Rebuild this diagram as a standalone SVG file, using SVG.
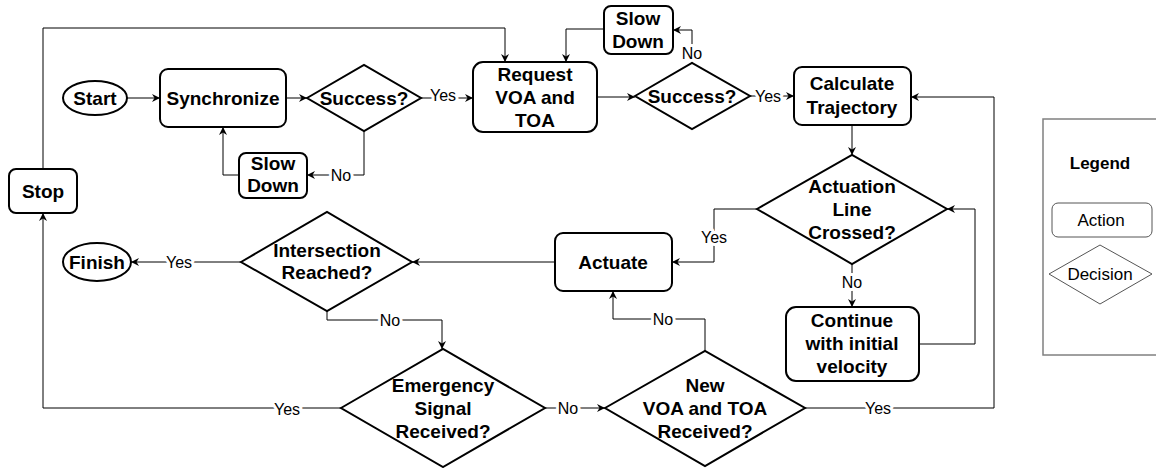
<svg xmlns="http://www.w3.org/2000/svg" width="1156" height="468" viewBox="0 0 1156 468">
<defs>
<marker id="arr" markerUnits="userSpaceOnUse" markerWidth="10" markerHeight="10" refX="8" refY="4" orient="auto">
<path d="M0,0 L8,4 L0,8 L2.5,4 z" fill="#000"/>
</marker>
<style>
.n{fill:#fff;stroke:#000;stroke-width:2}
.t{font-family:"Liberation Sans",Arial,sans-serif;font-weight:bold;font-size:19px;text-anchor:middle;fill:#000}
.c{fill:none;stroke:#000;stroke-width:1}
.a{marker-end:url(#arr)}
.l{font-family:"Liberation Sans",Arial,sans-serif;font-size:16px;text-anchor:middle;fill:#000;stroke:#fff;stroke-width:6;paint-order:stroke;stroke-linejoin:round}
.g{font-family:"Liberation Sans",Arial,sans-serif;font-size:17px;text-anchor:middle;fill:#000}
</style>
</defs>
<rect width="1156" height="468" fill="#fff"/>
<g id="connectors">
<path class="c a" d="M127,98 H160"/>
<path class="c a" d="M286,98 H307"/>
<path class="c a" d="M364,131 V175 H307"/>
<path class="c a" d="M239,175 H223 V127"/>
<path class="c a" d="M421,98 H473"/>
<path class="c a" d="M597,97 H635"/>
<path class="c a" d="M692,63 V30 H673"/>
<path class="c a" d="M604,29 H566 V62"/>
<path class="c a" d="M43,169 V28 H505 V62"/>
<path class="c a" d="M750,96 H794"/>
<path class="c a" d="M852,125 V155"/>
<path class="c a" d="M852,264 V307"/>
<path class="c a" d="M919,344 H975 V209 H947"/>
<path class="c a" d="M757,209 H714 V262 H672"/>
<path class="c a" d="M555,262 H412"/>
<path class="c a" d="M241,262 H131"/>
<path class="c a" d="M327,311 V320 H442 V349"/>
<path class="c a" d="M341,408 H43 V213"/>
<path class="c a" d="M545,408 H605"/>
<path class="c a" d="M705,351 V319 H613 V291"/>
<path class="c a" d="M805,408 H994 V97 H911"/>
<text class="l" x="341" y="181">No</text>
<text class="l" x="443" y="101">Yes</text>
<text class="l" x="692" y="59">No</text>
<text class="l" x="768" y="102">Yes</text>
<text class="l" x="852" y="288">No</text>
<text class="l" x="714" y="243">Yes</text>
<text class="l" x="179" y="268">Yes</text>
<text class="l" x="390" y="326">No</text>
<text class="l" x="568" y="414">No</text>
<text class="l" x="663" y="325">No</text>
<text class="l" x="878" y="414">Yes</text>
<text class="l" x="287" y="415">Yes</text>
</g>
<g id="start"><ellipse class="n" cx="95" cy="98" rx="32" ry="17"/><text class="t" x="95" y="105">Start</text></g>
<g id="synchronize"><rect class="n" x="160" y="69" width="126" height="58" rx="8"/><text class="t" x="223" y="105">Synchronize</text></g>
<g id="success1"><polygon class="n" points="307,98 364,65 421,98 364,131"/><text class="t" x="364" y="105">Success?</text></g>
<g id="slowdown1"><rect class="n" x="239" y="153" width="68" height="45" rx="7"/><text class="t" x="273" y="170">Slow</text><text class="t" x="273" y="192">Down</text></g>
<g id="stop"><rect class="n" x="9" y="169" width="68" height="44" rx="7"/><text class="t" x="43" y="198">Stop</text></g>
<g id="request"><rect class="n" x="473" y="62" width="124" height="70" rx="10"/><text class="t" x="535" y="81">Request</text><text class="t" x="535" y="104">VOA and</text><text class="t" x="535" y="127">TOA</text></g>
<g id="slowdown2"><rect class="n" x="604" y="6" width="69" height="48" rx="7"/><text class="t" x="638" y="25">Slow</text><text class="t" x="638" y="48">Down</text></g>
<g id="success2"><polygon class="n" points="635,96 692,63 750,96 692,129"/><text class="t" x="692" y="103">Success?</text></g>
<g id="calculate"><rect class="n" x="794" y="67" width="117" height="58" rx="8"/><text class="t" x="852" y="90">Calculate</text><text class="t" x="852" y="114">Trajectory</text></g>
<g id="actuation"><polygon class="n" points="757,209 852,155 947,209 852,264"/><text class="t" x="852" y="193">Actuation</text><text class="t" x="852" y="216">Line</text><text class="t" x="852" y="239">Crossed?</text></g>
<g id="continue"><rect class="n" x="786" y="307" width="133" height="74" rx="10"/><text class="t" x="852" y="327">Continue</text><text class="t" x="852" y="350">with initial</text><text class="t" x="852" y="373">velocity</text></g>
<g id="actuate"><rect class="n" x="555" y="233" width="117" height="58" rx="8"/><text class="t" x="613" y="269">Actuate</text></g>
<g id="intersection"><polygon class="n" points="241,262 327,212 412,262 327,311"/><text class="t" x="327" y="257">Intersection</text><text class="t" x="327" y="279">Reached?</text></g>
<g id="finish"><ellipse class="n" cx="97" cy="262" rx="34" ry="19"/><text class="t" x="97" y="269">Finish</text></g>
<g id="emergency"><polygon class="n" points="341,408 443,349 545,408 443,467"/><text class="t" x="443" y="392">Emergency</text><text class="t" x="443" y="415">Signal</text><text class="t" x="443" y="438">Received?</text></g>
<g id="newvoa"><polygon class="n" points="605,408 705,351 805,408 705,466"/><text class="t" x="705" y="392">New</text><text class="t" x="705" y="415">VOA and TOA</text><text class="t" x="705" y="438">Received?</text></g>
<g id="legend">
<rect x="1043" y="119" width="130" height="236" fill="#fff" stroke="#808080" stroke-width="1.5"/>
<text class="g" x="1100" y="169" font-weight="bold">Legend</text>
<rect x="1052" y="203" width="100" height="34" rx="6" fill="#fff" stroke="#555" stroke-width="1"/>
<text class="g" x="1101" y="226">Action</text>
<polygon points="1049,274 1100,245 1152,274 1100,304" fill="#fff" stroke="#555" stroke-width="1"/>
<text class="g" x="1100" y="280">Decision</text>
</g>
</svg>
